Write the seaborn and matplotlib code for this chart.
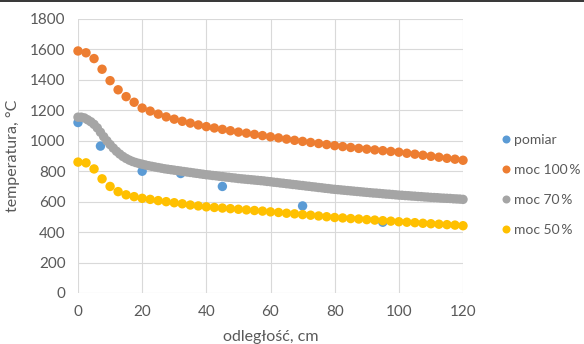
import numpy as np
import pandas as pd
import matplotlib
matplotlib.use("Agg")
import matplotlib.pyplot as plt
from matplotlib.patches import Rectangle
import seaborn as sns

# Measured points
pomiar_x = [0, 7, 20, 32, 45, 70, 95]
pomiar_y = [1120, 965, 800, 785, 700, 572, 465]

# Model grid for 100 % and 50 % power (every 2.5 cm)
x_coarse = np.arange(0, 120.01, 2.5)
moc100 = [1590, 1578, 1540, 1470, 1395, 1335, 1290, 1253, 1215, 1195,
          1175, 1157, 1142, 1128, 1116, 1104, 1093, 1084, 1075, 1066,
          1057, 1050, 1042, 1034, 1026, 1019, 1011, 1003, 996, 989,
          982, 975, 968, 962, 956, 950, 945, 940, 935, 930,
          925, 918, 912, 905, 898, 892, 885, 879, 872]
moc50 = [860, 855, 815, 750, 700, 666, 645, 633, 622, 615,
         607, 600, 593, 586, 578, 572, 566, 562, 558, 554,
         550, 546, 542, 538, 533, 529, 524, 520, 515, 511,
         506, 501, 496, 493, 489, 486, 482, 479, 475, 472,
         468, 465, 462, 458, 455, 452, 449, 446, 442]

# Model grid for 70 % power (every 1 cm)
x_fine = np.arange(0, 121, 1)
moc70 = [1155, 1155, 1150, 1138, 1125, 1108, 1085, 1056, 1027, 1000, 975,
         952, 931, 913, 897, 884, 873, 864, 857, 851, 846,
         841, 836, 832, 828, 824, 820, 816, 813, 810, 807,
         804, 801, 798, 795, 792, 789, 786, 783, 780, 777,
         775, 772, 770, 767, 765, 762, 760, 757, 755, 752,
         750, 748, 746, 744, 742, 740, 738, 736, 733, 731,
         728, 726, 723, 721, 718, 716, 713, 711, 708, 706,
         703, 701, 698, 696, 693, 691, 688, 686, 683, 681,
         679, 677, 675, 673, 671, 669, 667, 665, 663, 661,
         659, 657, 656, 654, 652, 650, 649, 647, 645, 643,
         642, 640, 639, 637, 636, 634, 633, 631, 630, 628,
         627, 626, 624, 623, 622, 621, 619, 618, 617, 615]

labels = ["pomiar", "moc 100\u2009%", "moc 70\u2009%", "moc 50\u2009%"]
colors = ["#5B9BD5", "#ED7D31", "#A5A5A5", "#FFC000"]

df = pd.concat([
    pd.DataFrame({"x": pomiar_x, "y": pomiar_y, "seria": labels[0]}),
    pd.DataFrame({"x": x_coarse, "y": moc100, "seria": labels[1]}),
    pd.DataFrame({"x": x_fine, "y": moc70, "seria": labels[2]}),
    pd.DataFrame({"x": x_coarse, "y": moc50, "seria": labels[3]}),
], ignore_index=True)

sns.set_style("white")
plt.rcParams["font.family"] = ["Lato", "DejaVu Sans"]

fig = plt.figure(figsize=(5.84, 3.44), dpi=100)
ax = fig.add_axes([78 / 584, 1 - 293 / 344, (463 - 78) / 584, (293 - 19) / 344])

sns.scatterplot(data=df, x="x", y="y", hue="seria", hue_order=labels,
                palette=dict(zip(labels, colors)), s=46, linewidth=0,
                clip_on=False, zorder=3, ax=ax, legend=True)

ax.set_xlim(0, 120)
ax.set_ylim(0, 1800)
ax.set_xticks(range(0, 121, 20))
ax.set_yticks(range(0, 1801, 200))
ax.grid(True, color="#D9D9D9", linewidth=0.8)
ax.set_axisbelow(True)
for s in ax.spines.values():
    s.set_visible(False)
ax.tick_params(axis="both", length=0, labelsize=11, labelcolor="#595959")
ax.tick_params(axis="y", pad=9)
ax.tick_params(axis="x", pad=9)

ax.set_xlabel("odległość, cm", fontsize=11.5, color="#595959", labelpad=7.5)
ax.set_ylabel("temperatura, °C", fontsize=11.5, color="#595959", labelpad=7)

handles, lbls = ax.get_legend_handles_labels()
ax.legend(handles, lbls, loc="center left", bbox_to_anchor=(494.5 / 584, 1 - 185 / 344),
          bbox_transform=fig.transFigure, frameon=False, fontsize=10,
          labelcolor="#595959", handletextpad=0.19, labelspacing=1.3,
          markerscale=0.85, borderaxespad=0, handlelength=0.8)

# thin dark rule along the top edge
fig.add_artist(Rectangle((0, 1 - 2 / 344), 1, 2 / 344, transform=fig.transFigure,
                         color="#3A3A3A", lw=0))

fig.savefig("out.png", dpi=100)
